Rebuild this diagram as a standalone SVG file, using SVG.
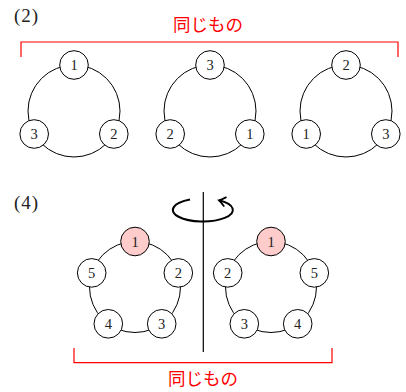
<svg xmlns="http://www.w3.org/2000/svg" width="406" height="392" viewBox="0 0 406 392">
<style>
.ring{fill:none;stroke:#000;stroke-width:1}
.nd{fill:#fff;stroke:#000;stroke-width:1}
.hl{fill:#ffcccc;stroke:#000;stroke-width:1}
.num{font-family:"Liberation Serif","DejaVu Serif",serif;font-size:14.5px;text-anchor:middle;fill:#222}
.lbl{font-family:"Liberation Serif","DejaVu Serif",serif;font-size:19px;letter-spacing:1px;fill:#222}
.red{font-family:"Noto Sans CJK JP",sans-serif;font-size:17.5px;text-anchor:middle;fill:#f00}
.brk{fill:none;stroke:#f00;stroke-width:1.2}
.ax{stroke:#000;stroke-width:1.2}
.rot{fill:none;stroke:#000;stroke-width:2}
</style>
<defs>
<marker id="tip" markerUnits="userSpaceOnUse" viewBox="-8 -6 10 12" refX="0" refY="0" markerWidth="10" markerHeight="12" orient="auto" overflow="visible">
<path d="M-6,-4.5 Q-2,-1 0,0 Q-2,1 -6,4.5" fill="none" stroke="#000" stroke-width="1.8" stroke-linecap="round"/>
</marker>
</defs>

<text class="lbl" x="14" y="22">(2)</text>
<text class="lbl" x="14" y="208.5">(4)</text>

<g id="connectors">
<path class="brk" d="M21,57 V42 H398 V57"/>
<path class="brk" d="M74,348 V362.7 H332 V348"/>
<circle class="ring" cx="74" cy="111" r="46"/>
<circle class="ring" cx="210" cy="111" r="46"/>
<circle class="ring" cx="346" cy="111" r="46"/>
<circle class="ring" cx="135" cy="287" r="45.5"/>
<circle class="ring" cx="271" cy="287" r="45.5"/>
<path class="rot" d="M190,199.6 A30,11.5 0 1 0 219,200.3" marker-end="url(#tip)"/>
<line class="ax" x1="203.3" y1="192" x2="203.3" y2="352"/>
</g>

<text class="red" x="208" y="31">同じもの</text>
<text class="red" x="203" y="385">同じもの</text>

<g id="a1"><circle class="nd" cx="74" cy="65" r="14.3"/><text class="num" x="74" y="70">1</text></g>
<g id="a3"><circle class="nd" cx="34.2" cy="134" r="14.3"/><text class="num" x="34.2" y="139">3</text></g>
<g id="a2"><circle class="nd" cx="113.8" cy="134" r="14.3"/><text class="num" x="113.8" y="139">2</text></g>

<g id="b3"><circle class="nd" cx="210" cy="65" r="14.3"/><text class="num" x="210" y="70">3</text></g>
<g id="b2"><circle class="nd" cx="170.2" cy="134" r="14.3"/><text class="num" x="170.2" y="139">2</text></g>
<g id="b1"><circle class="nd" cx="249.8" cy="134" r="14.3"/><text class="num" x="249.8" y="139">1</text></g>

<g id="c2"><circle class="nd" cx="346" cy="65" r="14.3"/><text class="num" x="346" y="70">2</text></g>
<g id="c1"><circle class="nd" cx="306.2" cy="134" r="14.3"/><text class="num" x="306.2" y="139">1</text></g>
<g id="c3"><circle class="nd" cx="385.8" cy="134" r="14.3"/><text class="num" x="385.8" y="139">3</text></g>

<g id="d1"><circle class="hl" cx="135" cy="241.5" r="14.3"/><text class="num" x="135" y="246.5">1</text></g>
<g id="d2"><circle class="nd" cx="178.3" cy="272.9" r="14.3"/><text class="num" x="178.3" y="277.9">2</text></g>
<g id="d3"><circle class="nd" cx="161.7" cy="323.8" r="14.3"/><text class="num" x="161.7" y="328.8">3</text></g>
<g id="d4"><circle class="nd" cx="108.3" cy="323.8" r="14.3"/><text class="num" x="108.3" y="328.8">4</text></g>
<g id="d5"><circle class="nd" cx="91.7" cy="272.9" r="14.3"/><text class="num" x="91.7" y="277.9">5</text></g>

<g id="e1"><circle class="hl" cx="271" cy="241.5" r="14.3"/><text class="num" x="271" y="246.5">1</text></g>
<g id="e2"><circle class="nd" cx="227.7" cy="272.9" r="14.3"/><text class="num" x="227.7" y="277.9">2</text></g>
<g id="e3"><circle class="nd" cx="244.3" cy="323.8" r="14.3"/><text class="num" x="244.3" y="328.8">3</text></g>
<g id="e4"><circle class="nd" cx="297.7" cy="323.8" r="14.3"/><text class="num" x="297.7" y="328.8">4</text></g>
<g id="e5"><circle class="nd" cx="314.3" cy="272.9" r="14.3"/><text class="num" x="314.3" y="277.9">5</text></g>
</svg>
